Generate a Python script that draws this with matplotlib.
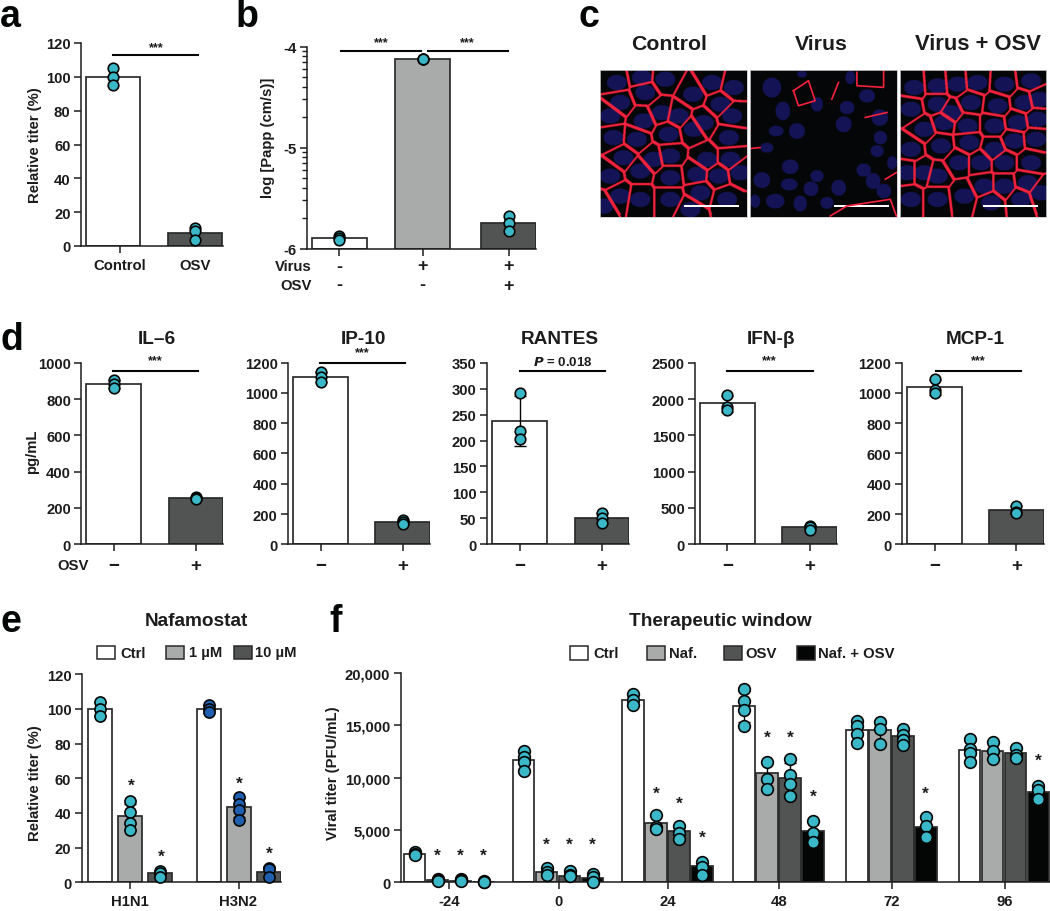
import numpy as np
import matplotlib
matplotlib.use("Agg")
import matplotlib.pyplot as plt
from matplotlib.patches import Rectangle
from matplotlib.ticker import FixedLocator, FuncFormatter, NullFormatter

plt.rcParams['font.family'] = ['Liberation Sans', 'DejaVu Sans']
plt.rcParams['font.weight'] = 'bold'
W, H = 1050, 912
fig = plt.figure(figsize=(W/100, H/100), dpi=100, facecolor='white')

WHITE, GREY, DARK, BLACK = '#ffffff', '#a9abaa', '#525453', '#040606'
TEAL, BLUE = '#3bb8c8', '#1f5fb0'
INK = '#1c1c1c'
FS = 10.7

# ---------------- data ----------------
a_labels = ['Control', 'OSV']
a_bars = [100, 7.5]
a_pts = [[105, 100, 95], [10.5, 9, 3.5]]

b_bars = [-5.90, -4.125, -5.745]
b_pts = [[-5.88, -5.9, -5.92], [-4.125, -4.125, -4.125], [-5.676, -5.75, -5.825]]
b_virus = ['-', '+', '+']
b_osv = ['-', '-', '+']

d_titles = ['IL–6', 'IP-10', 'RANTES', 'IFN-β', 'MCP-1']
d_ticks = [[0, 200, 400, 600, 800, 1000], [0, 200, 400, 600, 800, 1000, 1200],
           [0, 50, 100, 150, 200, 250, 300, 350], [0, 500, 1000, 1500, 2000, 2500],
           [0, 200, 400, 600, 800, 1000, 1200]]
d_bars = [[881, 255], [1105, 148], [238, 50], [1940, 235], [1040, 225]]
d_pts = [[[905, 880, 860], [258, 255, 250]],
         [[1140, 1105, 1075], [160, 150, 137]],
         [[292, 218, 203], [60, 50, 42]],
         [[2060, 1890, 1850], [250, 240, 190]],
         [[1095, 1020, 1000], [255, 215, 205]]]
d_sig = ['***', '***', 'P = 0.018', '***', '***']

e_groups = ['H1N1', 'H3N2']
e_series = ['Ctrl', '1 µM', '10 µM']
e_bars = [[100, 38, 5.5], [100, 43.5, 6]]
e_pts = [[[104, 100, 96], [47, 40.5, 34, 30], [6.5, 5.5, 3]],
         [[102.5, 100, 98], [49, 45, 42, 36], [8.5, 7.5, 3]]]
e_stars = [[None, 56, 15], [None, 57, 16.5]]

f_groups = ['-24', '0', '24', '48', '72', '96']
f_series = ['Ctrl', 'Naf.', 'OSV', 'Naf. + OSV']
f_bars = [[2700, 200, 160, 60], [11720, 950, 640, 380], [17450, 5640, 4900, 1590],
          [16800, 10450, 9940, 4900], [14520, 14520, 13950, 5250], [12610, 12520, 12360, 8600]]
f_pts = [[[2900, 2750, 2600], [280, 180, 100], [330, 200, 130], [100, 60, 20]],
         [[12580, 11940, 11460, 10670], [1340, 1020, 700], [1050, 700, 570], [800, 480, 60]],
         [[18000, 17450, 16940], [6430, 5250, 5100], [5400, 4680, 4140], [1910, 1500, 700]],
         [[18470, 17290, 16460, 14900], [11460, 9870, 8920], [11780, 10290, 9400, 8220], [5890, 4680, 3890]],
         [[15450, 14900, 14170, 13310], [15350, 14650, 13220], [14650, 14110, 13600, 13150], [6270, 5410, 4300]],
         [[13700, 12740, 12320, 11530], [13380, 12580, 11780], [12830, 12200, 11850], [9170, 8820, 7960]]]
f_stars = [[None, 2550, 2550, 2550], [None, 3650, 3650, 3650], [None, 8520, 7530, 4270],
           [None, 13900, 13900, 8210], [None, None, None, 8530], [None, None, None, 11650]]

c_control_cells = [(80, 70), (155, 55), (225, 60), (308, 105), (365, 70), (430, 85), (90, 130), (165, 100),
                   (60, 170), (160, 185), (215, 160), (265, 170), (340, 190), (425, 170), (390, 135), (70, 235),
                   (140, 240), (235, 225), (310, 210), (415, 235), (100, 295), (190, 300), (240, 290), (350, 300),
                   (420, 300), (60, 350), (150, 335), (240, 355), (320, 345), (385, 350), (450, 340), (90, 410),
                   (150, 420), (240, 420), (330, 400), (410, 420), (40, 440), (300, 450)]
c_osv_cells = [(970, 85), (1040, 80), (1100, 75), (1160, 70), (1240, 75), (1320, 65), (1220, 140), (1300, 130),
               (1345, 120), (1040, 135), (960, 150), (1080, 160), (1140, 130), (1000, 210), (1130, 200), (1060, 190),
               (1210, 200), (1280, 190), (1340, 180), (960, 270), (1050, 260), (1135, 250), (1210, 270), (1270, 245),
               (1335, 240), (1000, 340), (1105, 310), (1170, 310), (1240, 310), (1320, 310), (950, 340), (1040, 350),
               (1180, 380), (1240, 380), (1310, 370), (960, 420), (1040, 420), (1120, 410), (1200, 430), (1290, 420),
               (1350, 400)]
c_virus_nuclei = [(545, 85, 28, 30), (578, 155, 22, 28), (558, 215, 22, 16), (620, 215, 24, 24), (530, 265, 20, 15),
                  (600, 322, 25, 22), (515, 362, 25, 24), (597, 375, 25, 18), (662, 388, 22, 22), (745, 385, 22, 24),
                  (820, 332, 22, 20), (848, 365, 22, 24), (880, 395, 22, 22), (555, 425, 28, 22), (630, 432, 20, 24),
                  (710, 430, 20, 18), (760, 195, 24, 24), (770, 145, 22, 20), (830, 110, 24, 20), (868, 175, 25, 25),
                  (870, 235, 20, 20), (860, 275, 20, 18), (780, 55, 15, 20), (680, 135, 18, 22), (680, 350, 20, 18),
                  (635, 45, 15, 10), (495, 425, 15, 20), (905, 310, 15, 20)]
c_virus_lines = [[(610, 95), (655, 65), (675, 125), (625, 140), (610, 95)],
                 [(800, 40), (800, 80), (880, 85), (880, 35)],
                 [(745, 70), (725, 120)],
                 [(825, 175), (890, 160)],
                 [(720, 470), (770, 440), (900, 420), (918, 470)],
                 [(885, 360), (918, 340)],
                 [(482, 268), (510, 265)]]


# ---------------- helpers ----------------
def T(x, y, s, ha='center', va='center', size=FS, **kw):
    return fig.text(x/W, 1-y/H, s, ha=ha, va=va, fontsize=size, color=INK, **kw)


def letter(x, y, s):
    T(x, y, s, ha='left', va='baseline', size=27, color_override=None) if False else \
        fig.text(x/W, 1-y/H, s, ha='left', va='baseline', fontsize=27, color=BLACK)


def L(x0, x1, y, lw=1.5):
    fig.add_artist(plt.Line2D([x0/W, x1/W], [1-y/H, 1-y/H], color=BLACK, lw=lw, transform=fig.transFigure))


def make_ax(left, right, y0, ytop):
    ax = fig.add_axes([left/W, 1-y0/H, (right-left)/W, (y0-ytop)/H])
    ax.set_xlim(left, right)
    ax.patch.set_alpha(0)
    for s in ('top', 'right'):
        ax.spines[s].set_visible(False)
    for s in ('left', 'bottom'):
        ax.spines[s].set_linewidth(1.1)
        ax.spines[s].set_color(INK)
    ax.tick_params(axis='both', width=1.1, length=5, color=INK, labelsize=FS, pad=2.5, labelcolor=INK)
    ax.tick_params(axis='x', pad=3.5)
    return ax


def bars(ax, xs, widths, vals, cols, pts, ms=7.6, color=TEAL, err=True, bottom=0):
    ax.bar(xs, np.array(vals)-bottom, width=widths, bottom=bottom, color=cols, edgecolor='#2a2a2a', linewidth=1.25, zorder=2)
    for x, v, p in zip(xs, vals, pts):
        if err:
            ax.errorbar(x, np.mean(p), yerr=np.std(p, ddof=1), color=BLACK, lw=1.0, capsize=4.5, capthick=1.0, zorder=3, clip_on=False)
        ax.plot([x]*len(p), p, ls='', marker='o', ms=ms, mfc=color, mec=BLACK, mew=1.2, zorder=4, clip_on=False)


# ---------------- a ----------------
letter(0, 27, 'a')
ax = make_ax(81, 223, 247, 44)
bars(ax, [113, 195], 54.5, a_bars, [WHITE, DARK], a_pts, err=False)
ax.set_ylim(0, 120)
ax.set_yticks(range(0, 121, 20))
ax.set_xticks([120, 195])
ax.set_xticklabels(a_labels)
ax.xaxis.get_major_ticks()[1].tick1line.set_visible(False)
T(35, 145, 'Relative titer (%)', rotation=90)
L(112.5, 197.5, 56)
T(156, 48, '***', size=9)

# ---------------- b ----------------
letter(236, 27, 'b')
ax = make_ax(307, 536, 249.5, 47.5)
xs = [339, 422.5, 508.5]
bars(ax, xs, 55, [10**v for v in b_bars], [WHITE, GREY, DARK],
     [[10**q for q in p] for p in b_pts], err=False, bottom=1e-6)
ax.set_yscale('log')
ax.set_ylim(1e-6, 1e-4)
ax.yaxis.set_major_locator(FixedLocator([1e-6, 1e-5, 1e-4]))
ax.yaxis.set_major_formatter(FuncFormatter(lambda v, p: '%d' % round(np.log10(v))))
ax.yaxis.set_minor_locator(FixedLocator([m*10.0**e for e in (-6, -5) for m in range(2, 10)]))
ax.yaxis.set_minor_formatter(NullFormatter())
ax.tick_params(axis='y', which='minor', length=3.5, width=1.0, color=INK)
ax.set_xticks(xs)
ax.set_xticklabels(['', '', ''])
T(268, 138, 'log [Papp (cm/s)]', rotation=90)
T(312, 267, 'Virus', ha='right')
T(312, 286, 'OSV', ha='right')
for x, v, o in zip(xs, b_virus, b_osv):
    T(x, 267, v, size=13)
    T(x, 286, o, size=13)
L(341, 421, 52)
L(427.5, 507.5, 52)
T(381, 43, '***', size=9)
T(467.5, 43, '***', size=9)

# ---------------- c ----------------
letter(578, 27, 'c')
RED, NUC, BG = (0.96, 0.13, 0.24), (0.078, 0.078, 0.34), (0.02, 0.024, 0.03)


def micrograph(ox, oy, cells=None, nuclei=None):
    n = 440
    yy, xx = np.mgrid[0:n, 0:n]
    img = np.zeros((n, n, 3)) + np.array(BG)
    if nuclei is None:
        nuclei = [(cx, cy, 30, 23) for cx, cy in cells]
    for cx, cy, rx, ry in nuclei:
        m = ((xx-(cx-ox))/rx)**2 + ((yy-(cy-oy))/ry)**2 < 1
        img[m] = NUC
    if cells is not None:
        c = np.array(cells, float) - [ox, oy]
        d = (xx[..., None]-c[:, 0])**2 + (yy[..., None]-c[:, 1])**2
        lab = d.argmin(axis=2)
        edge = np.zeros((n, n), bool)
        k = 7
        edge[:-k, :] |= lab[:-k, :] != lab[k:, :]
        edge[:, :-k] |= lab[:, :-k] != lab[:, k:]
        img[edge] = RED
    return img


panels = [(600, 747, 30, 33, c_control_cells, None),
          (750, 897, 480, 33, None, c_virus_nuclei),
          (899.5, 1046, 928, 33, c_osv_cells, None)]
for i, (l, r, ox, oy, cells, nuc) in enumerate(panels):
    axc = fig.add_axes([l/W, 1-218/H, (r-l)/W, 147/H])
    axc.imshow(micrograph(ox, oy, cells, nuc), extent=(0, 440, 440, 0), interpolation='bilinear', aspect='auto')
    if i == 1:
        for ln in c_virus_lines:
            p = np.array(ln, float) - [ox, oy]
            axc.plot(p[:, 0], p[:, 1], color=RED, lw=1.2)
    axc.set_xlim(0, 440)
    axc.set_ylim(440, 0)
    axc.set_xticks([])
    axc.set_yticks([])
    for s in axc.spines.values():
        s.set_color('#c8c8c8')
        s.set_linewidth(0.6)
    axc.add_patch(Rectangle((251, 403), 164, 8, color='white', lw=0))
T(669, 44, 'Control', size=15.3)
T(821, 44, 'Virus', size=15.3)
T(978, 44, 'Virus + OSV', size=15.8)

# ---------------- d ----------------
letter(0, 350, 'd')
d_axis = [81.4, 288, 487, 695.3, 901.8]
d_right = [223.3, 430, 629, 837, 1043.6]
d_centres = [[113.8, 195.9], [320.6, 402.5], [519.8, 601.8], [727.4, 809.5], [934.5, 1016.3]]
d_width = [[54.7, 54.7], [55.3, 55], [55.2, 54.3], [54.8, 55], [55, 54.6]]
d_sigx = [(112.5, 198.3), (320, 405.4), (519.6, 605), (726.8, 812.6), (935.5, 1021)]
d_sigy = [371.7, 364.3, 371.7, 371.7, 371.7]
d_ymax = [1000, 1200, 350, 2500, 1200]
d_title_x = [156.4, 363, 559.5, 770.7, 975.4]
for i in range(5):
    ax = make_ax(d_axis[i], d_right[i], 545.3, 363.7)
    bars(ax, d_centres[i], d_width[i], d_bars[i], [WHITE, DARK], d_pts[i])
    ax.set_ylim(0, d_ymax[i])
    ax.set_yticks(d_ticks[i])
    ax.set_xticks(d_centres[i])
    ax.set_xticklabels(['', ''])
    T(d_title_x[i], 339, d_titles[i], size=13.7)
    for x, s in zip(d_centres[i], ['−', '+']):
        T(x, 566, s, size=13.5)
    L(*d_sigx[i], d_sigy[i])
    sx = sum(d_sigx[i])/2
    if d_sig[i] == '***':
        T(sx, d_sigy[i]-11, '***', size=9)
    else:
        T(sx, d_sigy[i]-9.5, r'$\mathbfit{P}$ = 0.018', size=9.5)
T(88.5, 566, 'OSV', ha='right')
T(32, 452, 'pg/mL', rotation=90)

# ---------------- e ----------------
letter(0, 632, 'e')
ax = make_ax(81.7, 281, 883.3, 675.3)
e_x = [[100.3, 130.3, 160.3], [208.7, 238.7, 268.7]]
e_cols = [WHITE, GREY, DARK]
for g, col in enumerate([TEAL, BLUE]):
    bars(ax, e_x[g], 24, e_bars[g], e_cols, e_pts[g], ms=8, color=col)
    for x, s in zip(e_x[g], e_stars[g]):
        if s is not None:
            ax.text(x+1, s, '*', ha='center', va='center', fontsize=12.5, color=INK)
ax.set_ylim(0, 120)
ax.set_yticks(range(0, 121, 20))
ax.set_xticks([130.3, 238.5])
ax.set_xticklabels(e_groups)
T(35, 783, 'Relative titer (%)', rotation=90)
T(196.7, 622, 'Nafamostat', size=13.7)
for bx, tx, c, s in zip([97.3, 166, 234], [120.7, 189, 255], e_cols, e_series):
    fig.add_artist(Rectangle((bx/W, 1-660/H), 18/W, 13/H, fc=c, ec='#2a2a2a', lw=1.1, transform=fig.transFigure))
    T(tx, 653.5, s, ha='left')

# ---------------- f ----------------
letter(329, 632, 'f')
ax = make_ax(400.7, 1050, 883.3, 674)
f_ctrl = [414.5, 523.5, 633, 744, 856.7, 969.5]
f_tick = [449.3, 558.7, 667.7, 779, 891.7, 1004.7]
f_cols = [WHITE, GREY, DARK, BLACK]
for g in range(6):
    xs = [f_ctrl[g] + 23*k for k in range(4)]
    bars(ax, xs, 21.7, f_bars[g], f_cols, f_pts[g], ms=8.4)
    for x, s in zip(xs, f_stars[g]):
        if s is not None:
            ax.text(x, s, '*', ha='center', va='center', fontsize=12.5, color=INK)
ax.set_ylim(0, 20000)
ax.set_yticks(range(0, 20001, 5000))
ax.yaxis.set_major_formatter(FuncFormatter(lambda v, p: f'{int(v):,}'))
ax.set_xticks(f_tick)
ax.set_xticklabels(f_groups)
T(333, 773, 'Viral titer (PFU/mL)', rotation=90)
T(720, 622, 'Therapeutic window', size=13.7)
for bx, tx, c, s in zip([570, 646.7, 724.3, 796.7], [593.3, 669.3, 745.7, 817.7], f_cols, f_series):
    fig.add_artist(Rectangle((bx/W, 1-660.5/H), 18/W, 13.5/H, fc=c, ec='#2a2a2a', lw=1.1, transform=fig.transFigure))
    T(tx, 654, s, ha='left')

fig.savefig('out.png', dpi=100)
